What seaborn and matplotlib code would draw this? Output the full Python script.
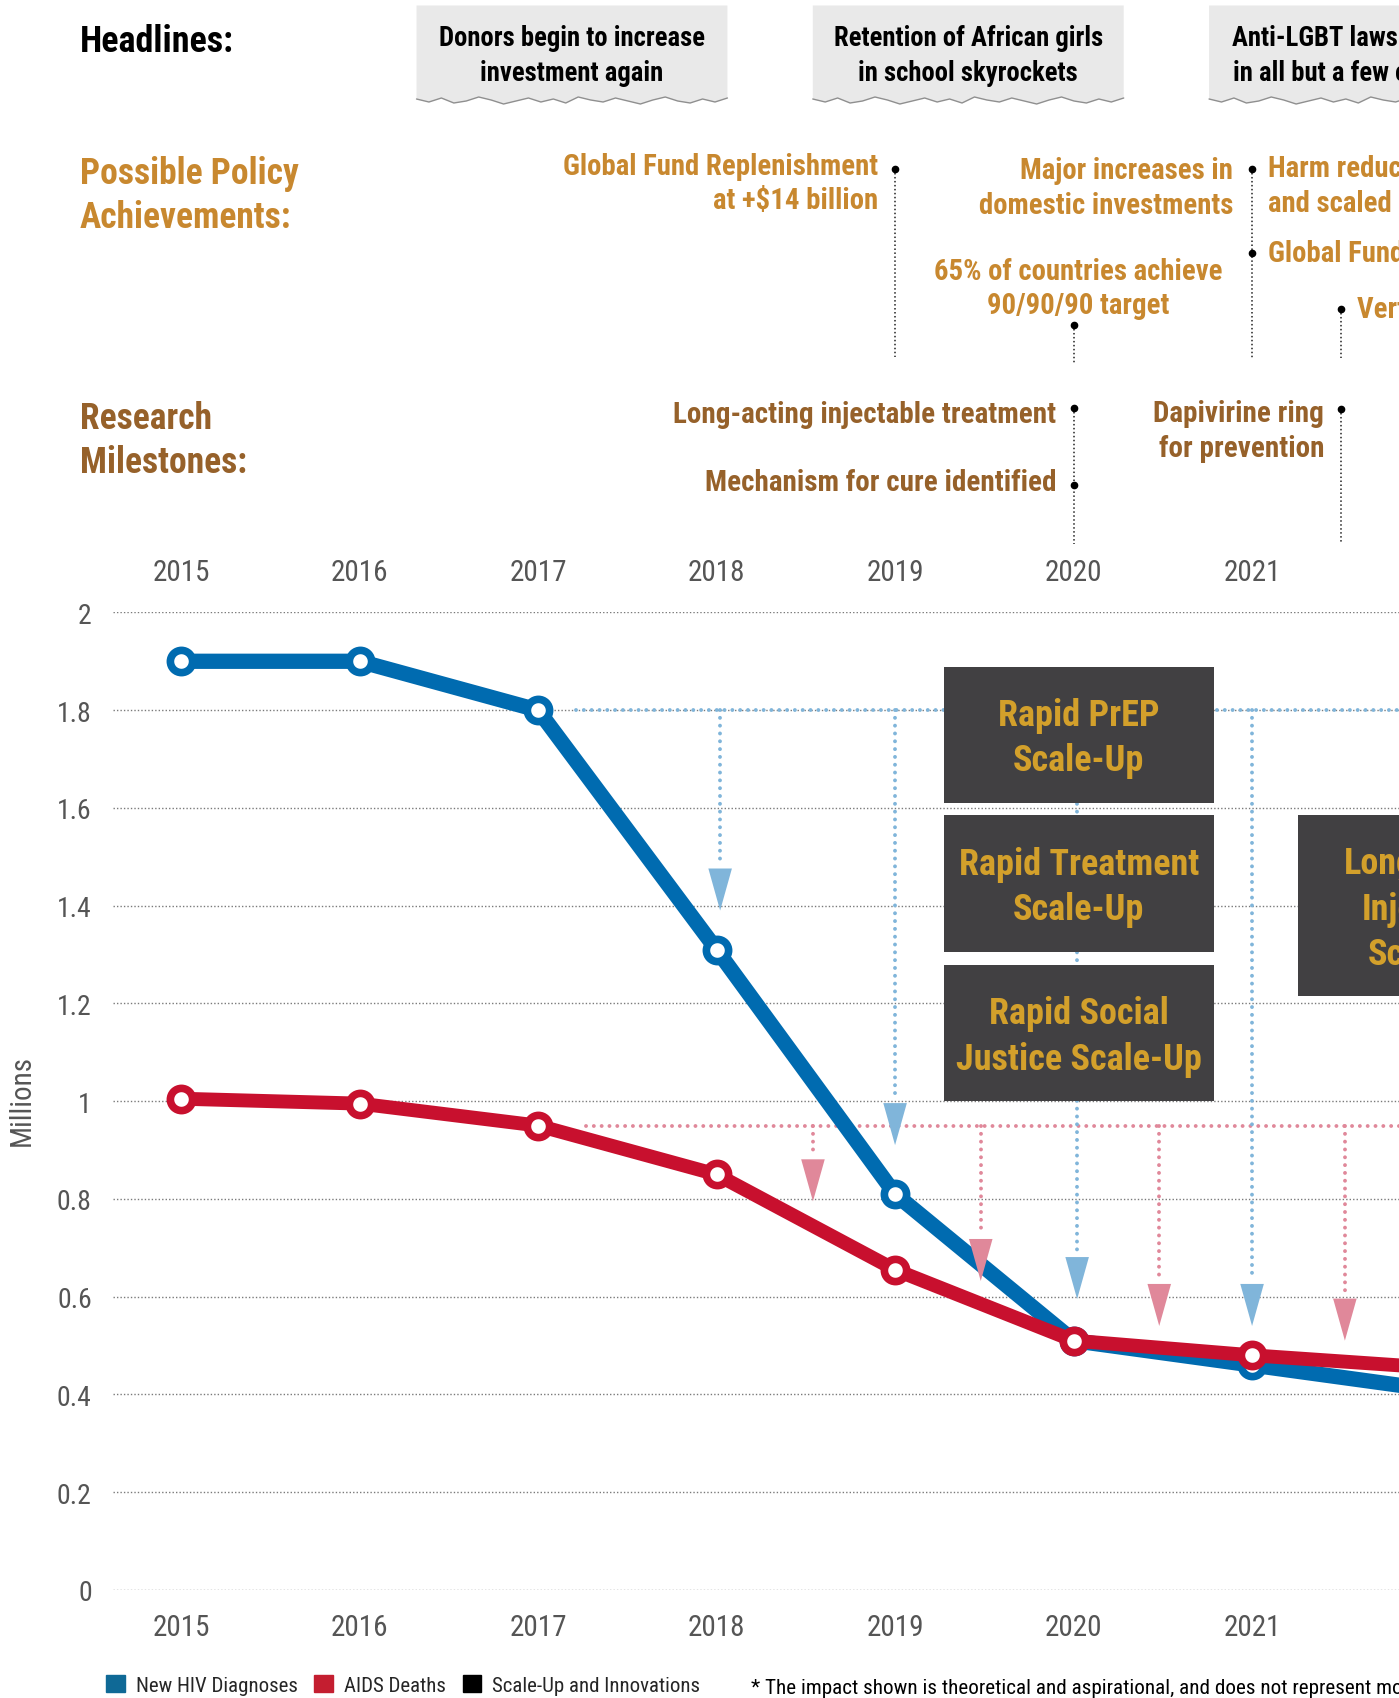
import matplotlib
matplotlib.use("Agg")
import numpy as np
import pandas as pd
import matplotlib.pyplot as plt
import seaborn as sns
from matplotlib import font_manager
from matplotlib.lines import Line2D
from matplotlib.patches import Rectangle, Polygon, Patch
from matplotlib.transforms import blended_transform_factory

# ---------------- data ----------------
YEARS = [2015, 2016, 2017, 2018, 2019, 2020, 2021, 2022]
NEW_HIV = [1.90, 1.90, 1.80, 1.31, 0.81, 0.51, 0.46, 0.41]
AIDS_DEATHS = [1.005, 0.995, 0.95, 0.85, 0.655, 0.51, 0.48, 0.455]

# projected drops (arrows) from the 2017 levels
HIV_DROP_YEARS = [2018.02, 2019, 2020.02, 2021]
HIV_DROP_TIPS = [1.39, 0.91, 0.595, 0.54]
DEATH_DROP_YEARS = [2018.54, 2019.48, 2020.48, 2021.52]
DEATH_DROP_TIPS = [0.795, 0.632, 0.54, 0.51]

TICK_YEARS = [2015, 2016, 2017, 2018, 2019, 2020, 2021]
Y_TICKS = [0, 0.2, 0.4, 0.6, 0.8, 1, 1.2, 1.4, 1.6, 1.8, 2]

HEADLINES = ["Donors begin to increase\ninvestment again",
             "Retention of African girls\nin school skyrockets",
             "Anti-LGBT laws repealed\nin all but a few countries"]
SCALE_UPS = ["Rapid PrEP\nScale-Up", "Rapid Treatment\nScale-Up",
             "Rapid Social\nJustice Scale-Up", "Long-Acting\nInjectable\nScale-Up"]
POLICY = ["Global Fund Replenishment\nat +$14 billion",
          "Major increases in\ndomestic investments",
          "Harm reduction legalized\nand scaled up globally",
          "Global Fund fully financed",
          "Vertical transmission eliminated",
          "65% of countries achieve\n90/90/90 target"]
RESEARCH = ["Long-acting injectable treatment",
            "Mechanism for cure identified",
            "Dapivirine ring\nfor prevention"]
LEGEND_LABELS = ["New HIV Diagnoses", "AIDS Deaths", "Scale-Up and Innovations"]
FOOTNOTE = "* The impact shown is theoretical and aspirational, and does not represent modeled projections."

# ---------------- style ----------------
sns.set_style("white")
names = {f.name for f in font_manager.fontManager.ttflist}
COND = next((n for n in ["Roboto Condensed", "Liberation Sans Narrow", "Open Sans Condensed",
                         "Noto Sans Condensed", "DejaVu Sans Condensed"] if n in names), "DejaVu Sans")
plt.rcParams["font.family"] = [COND, "DejaVu Sans"]
plt.rcParams["font.stretch"] = "condensed"

BLUE = "#006bb0"
RED = "#c8102e"
LBLUE = "#80b5da"
PINK = "#e0889a"
GOLD = "#c8882f"
BROWN = "#96612a"
BOX_GOLD = "#d3a02b"
BOX_FILL = "#414042"
GREY_TXT = "#555555"

PX_W, PX_H = 1399, 1699
X0, X1 = 2014.617, 2022.6
PPY = 178.5                      # pixels per year


def fy(py):
    return 1 - py / PX_H


fig = plt.figure(figsize=(PX_W / 100, PX_H / 100), dpi=100)
ax = fig.add_axes([112.7 / PX_W, fy(1590.9), (X1 - X0) * PPY / PX_W, (1590.9 - 613.4) / PX_H])
ax.set_xlim(X0, X1)
ax.set_ylim(0, 2)
top = blended_transform_factory(ax.transData, fig.transFigure)

# ---------------- main lines ----------------
df = pd.DataFrame({"year": YEARS, "hiv": NEW_HIV, "deaths": AIDS_DEATHS})
sns.lineplot(data=df, x="year", y="hiv", ax=ax, color=BLUE, linewidth=11, marker="o",
             markersize=16, markerfacecolor="white", markeredgecolor=BLUE,
             markeredgewidth=5.5, zorder=6, clip_on=False)
sns.lineplot(data=df, x="year", y="deaths", ax=ax, color=RED, linewidth=10, marker="o",
             markersize=16, markerfacecolor="white", markeredgecolor=RED,
             markeredgewidth=5.5, zorder=7, clip_on=False)

# ---------------- projection drops ----------------
dots = dict(lw=2.8, ls=(0, (0.01, 2.0)), dash_capstyle="round")
ah, hw = 0.086, 0.066
hiv_level, death_level = NEW_HIV[2], AIDS_DEATHS[2]
ax.plot([YEARS[2] + 0.21, X1 + 1], [hiv_level, hiv_level], color=LBLUE, zorder=2, **dots)
ax.plot([YEARS[2] + 0.27, X1 + 1], [death_level, death_level], color=PINK, zorder=2, **dots)
for xs, tips, level, col in [(HIV_DROP_YEARS, HIV_DROP_TIPS, hiv_level, LBLUE),
                             (DEATH_DROP_YEARS, DEATH_DROP_TIPS, death_level, PINK)]:
    for x, tip in zip(xs, tips):
        ax.plot([x, x], [level, tip + ah + 0.01], color=col, zorder=2, **dots)
        ax.add_patch(Polygon([(x - hw, tip + ah), (x + hw, tip + ah), (x, tip)],
                             closed=True, color=col, lw=0, zorder=8))

# ---------------- scale-up boxes ----------------
boxes = [(2019.274, 1.610, 1.889), (2019.274, 1.306, 1.585),
         (2019.274, 1.000, 1.279), (2021.26, 1.215, 1.585)]
for (bx, y0, y1), label in zip(boxes, SCALE_UPS):
    ax.add_patch(Rectangle((bx, y0), 1.512, y1 - y0, color=BOX_FILL, lw=0, zorder=4, clip_on=False))
    ax.text(bx + 0.756, (y0 + y1) / 2 - 0.006, label, ha="center", va="center", color=BOX_GOLD,
            fontsize=26, fontweight="bold", linespacing=1.33, zorder=5)

# ---------------- axes styling ----------------
ax.set_xlabel("")
ax.set_ylabel("")
for s in ax.spines.values():
    s.set_visible(False)
ax.set_yticks(Y_TICKS)
ax.set_yticklabels([f"{v:g}" for v in Y_TICKS])
ax.yaxis.grid(True, color="#7a7a7a", lw=1.0, ls=(0, (1, 1.5)))
ax.xaxis.grid(False)
ax.set_axisbelow(True)
ax.tick_params(axis="y", length=0, pad=15, labelsize=20, labelcolor=GREY_TXT)
ax.set_xticks(TICK_YEARS)
ax.set_xticklabels([str(y) for y in TICK_YEARS])
ax.tick_params(axis="x", length=0, pad=16.5, labelsize=21, labelcolor=GREY_TXT)
sec = ax.secondary_xaxis("top")
sec.set_xticks(TICK_YEARS)
sec.set_xticklabels([str(y) for y in TICK_YEARS])
sec.tick_params(length=0, pad=19, labelsize=21, labelcolor=GREY_TXT)
sec.spines["top"].set_visible(False)

fig.text(21.7 / PX_W, fy(1101), "Millions", rotation=90, ha="center", va="center",
         fontsize=21, color=GREY_TXT)

# ---------------- headlines ----------------
fig.text(80 / PX_W, fy(42), "Headlines:", ha="left", va="center", fontsize=26,
         fontweight="bold", color="black")
JAG = [0, 3, -1, 4, 2, -2, 1, 5, 2, -1, 3, 0, 4, -2, 1, 3, -1, 2, 5, 1, -2, 2, 4, 0, 3, -1]
for cx, label in zip([2017.19, 2019.41, 2021.63], HEADLINES):
    xl, xr = cx - 0.871, cx + 0.871
    edge = [(xl + (xr - xl) * i / (len(JAG) - 1), fy(100 + j)) for i, j in enumerate(JAG)]
    poly = [(xl, fy(6.5)), (xr, fy(6.5))] + edge[::-1]
    fig.add_artist(Polygon(poly, closed=True, transform=top, facecolor="#e9e9e9", lw=0))
    xs, ys = zip(*edge)
    fig.add_artist(Line2D(xs, ys, transform=top, color="#8f8f8f", lw=1.0))
    fig.text(cx, fy(56), label, transform=top, ha="center", va="center", fontsize=19.2,
             fontweight="bold", color="black", linespacing=1.38)

# ---------------- policy & research annotations ----------------
fig.text(80 / PX_W, fy(196), "Possible Policy\nAchievements:", ha="left", va="center",
         fontsize=25.6, fontweight="bold", color=GOLD, linespacing=1.3)
fig.text(80 / PX_W, fy(441), "Research\nMilestones:", ha="left", va="center",
         fontsize=25.6, fontweight="bold", color=BROWN, linespacing=1.3)


def leader(x, y0, y1):
    fig.add_artist(Line2D([x, x], [fy(y0), fy(y1)], transform=top, color="#222222",
                          lw=1.1, ls=(0, (1, 1.6))))


def dot(x, py):
    fig.add_artist(Line2D([x], [fy(py)], transform=top, marker="o", ms=4.5,
                          color="black", lw=0))


def note(x, py, text, ha, color, off_px, size):
    fig.text(x + off_px / PPY, fy(py), text, transform=top, ha=ha, va="center",
             fontsize=size, fontweight="bold", color=color, linespacing=1.3)


leader(2019, 170, 358)
leader(2021, 170, 359)
leader(2021.5, 310, 359)
leader(2020, 326, 365)
for x, py in [(2019, 170), (2021, 170), (2021, 253.6), (2021.5, 310), (2020, 326)]:
    dot(x, py)
note(2019, 184, POLICY[0], "right", GOLD, -17, 20.7)
note(2021, 188.5, POLICY[1], "right", GOLD, -19, 20.7)
note(2021, 186.5, POLICY[2], "left", GOLD, 16, 20.7)
note(2021, 254.5, POLICY[3], "left", GOLD, 16, 20.7)
note(2021.5, 310.5, POLICY[4], "left", GOLD, 16, 20.7)
note(2020, 289.2, POLICY[5], "center", GOLD, 5, 20.7)

leader(2020, 408.6, 545)
leader(2021.5, 409.6, 545)
for x, py in [(2020, 408.6), (2020, 485.5), (2021.5, 409.6)]:
    dot(x, py)
note(2020, 415, RESEARCH[0], "right", BROWN, -17, 21)
note(2020, 483, RESEARCH[1], "right", BROWN, -17, 21)
note(2021.5, 431.5, RESEARCH[2], "right", BROWN, -17, 21)

# ---------------- legend & footnote ----------------
handles = [Patch(color="#0f6996"), Patch(color="#c41e30"), Patch(color="black")]
fig.legend(handles, LEGEND_LABELS, loc="lower left", bbox_to_anchor=(106 / PX_W, 0.0018),
           ncol=3, frameon=False, fontsize=15, handlelength=0.9, handleheight=0.9,
           handletextpad=0.53, columnspacing=0.8, borderpad=0, borderaxespad=0)
fig.text(750.7 / PX_W, fy(1694), FOOTNOTE, ha="left", va="baseline", fontsize=15.2, color="black")

fig.savefig("out.png", dpi=100)
